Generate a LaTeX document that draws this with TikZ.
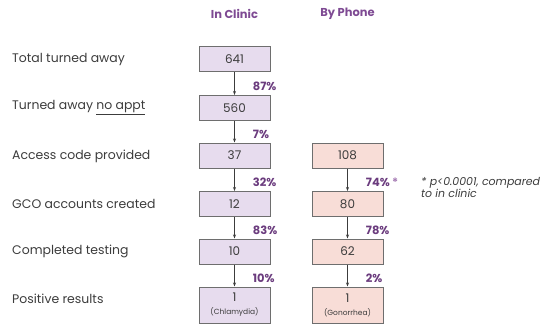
\documentclass[tikz,border=0pt]{standalone}
\usepackage{fontspec}
\setmainfont{Poppins}
\usepackage{xcolor}
\usetikzlibrary{arrows.meta}

\definecolor{hdrpurple}{HTML}{7E4A93}
\definecolor{pctpurple}{HTML}{6B3C7E}
\definecolor{starpurple}{HTML}{A77DB5}
\definecolor{clinicfill}{HTML}{E7DCEE}
\definecolor{phonefill}{HTML}{F8DDD7}
\definecolor{boxline}{HTML}{6E6E6E}
\definecolor{txtgray}{HTML}{3C3C3C}

\begin{document}
\begin{tikzpicture}[x=1bp, y=-1bp,
  arr/.style={-{Stealth[length=4bp,width=3bp]}, line width=0.8bp, txtgray},
  countbox/.style={draw=boxline, line width=1bp, minimum width=71bp, minimum height=25bp,
    inner sep=0pt, align=center, text=txtgray, font=\fontsize{12}{14}\selectfont},
  clinic/.style={countbox, fill=clinicfill},
  phone/.style={countbox, fill=phonefill},
  rowlabel/.style={anchor=west, inner sep=0pt, text=txtgray, font=\fontsize{12.5}{14}\selectfont},
  pct/.style={anchor=west, inner sep=0pt, text=pctpurple, font=\bfseries\fontsize{11.5}{13}\selectfont},
  hdr/.style={text=hdrpurple, font=\bfseries\fontsize{11.5}{13}\selectfont}]
  \useasboundingbox (0,0) rectangle (550,324);

  % Column headers
  \node[hdr] (hclinic) at (234.5,14) {In Clinic};
  \node[hdr] (hphone)  at (347.5,14) {By Phone};

  % Row labels
  \node[rowlabel] (ltotal)  at (12,59)  {Total turned away};
  \node[rowlabel] (lnoappt) at (12,108) {Turned away \underline{no appt}};
  \node[rowlabel] (lcode)   at (12,156) {Access code provided};
  \node[rowlabel] (lgco)    at (12,204) {GCO accounts created};
  \node[rowlabel] (ltest)   at (12,251) {Completed testing};
  \node[rowlabel] (lpos)    at (12,299) {Positive results};

  % In clinic column
  \node[clinic] (c1) at (234.5,59.2)  {641};
  \node[clinic] (c2) at (234.5,108)   {560};
  \node[clinic] (c3) at (234.5,155.5) {37};
  \node[clinic] (c4) at (234.5,204)   {12};
  \node[clinic] (c5) at (234.5,251.5) {10};
  \node[clinic, minimum height=36bp] (c6) at (234.5,305)
    {1\\[-1bp]{\fontsize{7.5}{9}\selectfont(Chlamydia)}};

  % By phone column
  \node[phone] (p3) at (347.5,155.5) {108};
  \node[phone] (p4) at (347.5,204)   {80};
  \node[phone] (p5) at (347.5,251.5) {62};
  \node[phone, minimum height=36bp] (p6) at (347.5,305)
    {1\\[-1bp]{\fontsize{7.5}{9}\selectfont(Gonorrhea)}};

  % Arrows & percentages
  \draw[arr] (c1) -- (c2) node[pct, midway, xshift=18bp, yshift=-3bp] {87\%};
  \draw[arr] (c2) -- (c3) node[pct, midway, xshift=18bp, yshift=-3bp] {7\%};
  \draw[arr] (c3) -- (c4) node[pct, midway, xshift=18bp, yshift=-3bp] {32\%};
  \draw[arr] (c4) -- (c5) node[pct, midway, xshift=18bp, yshift=-3bp] {83\%};
  \draw[arr] (c5) -- (c6) node[pct, midway, xshift=18bp, yshift=-3bp] {10\%};

  \draw[arr] (p3) -- (p4) node[pct, midway, xshift=18bp, yshift=-3bp] {74\% \textcolor{starpurple}{*}};
  \draw[arr] (p4) -- (p5) node[pct, midway, xshift=18bp, yshift=-3bp] {78\%};
  \draw[arr] (p5) -- (p6) node[pct, midway, xshift=18bp, yshift=-3bp] {2\%};

  % Footnote
  \node[anchor=north west, inner sep=0pt, align=left, text=txtgray,
    font=\itshape\fontsize{11}{12.5}\selectfont] (note) at (421,177)
    {* p<0.0001, compared\\to in clinic};
\end{tikzpicture}
\end{document}
